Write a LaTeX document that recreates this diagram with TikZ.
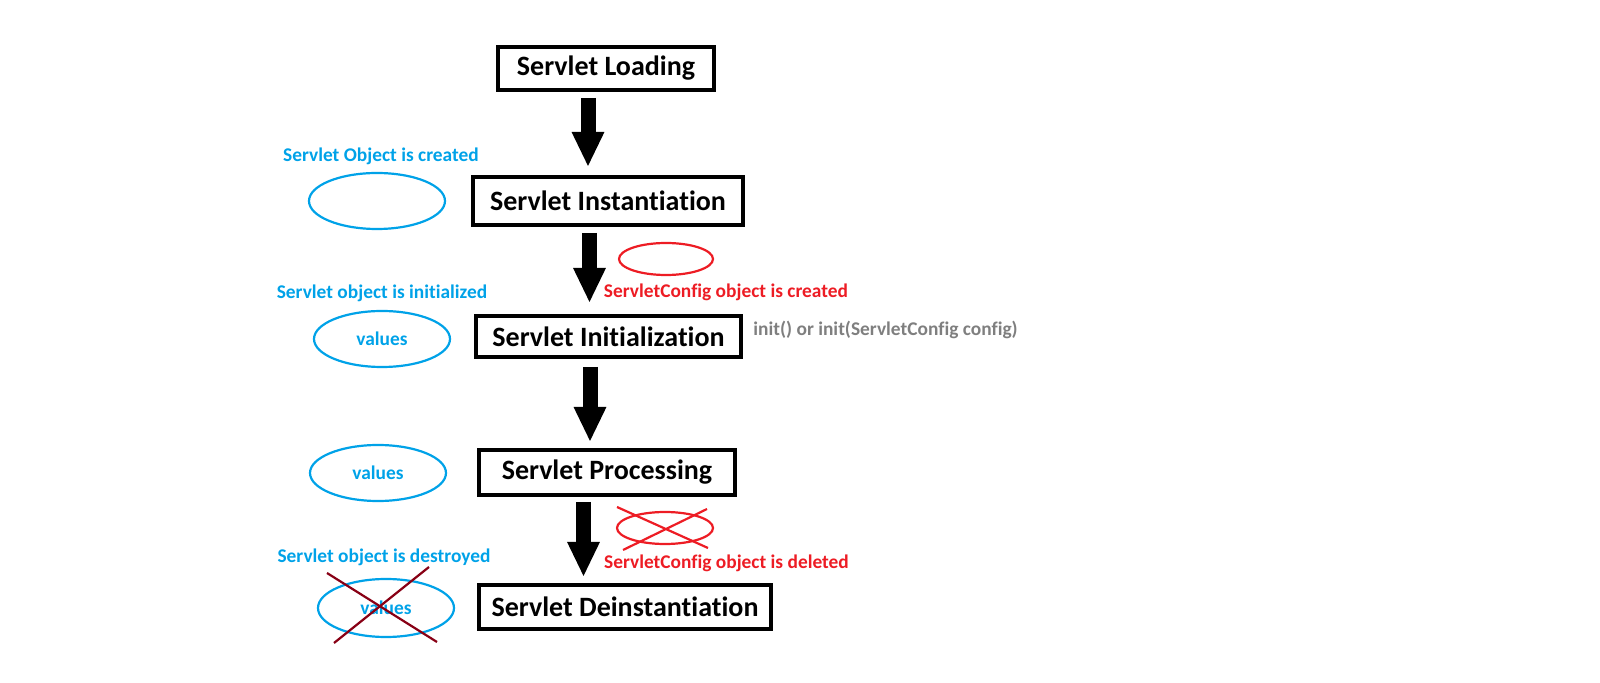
\documentclass[tikz,border=0pt]{standalone}
\usepackage{fontspec}
\setmainfont{Carlito}[Ligatures = NoCommon]
\usetikzlibrary{shapes.geometric,arrows.meta}
\definecolor{lblblue}{RGB}{0,162,232}
\definecolor{cfgred}{RGB}{237,28,36}
\definecolor{crossred}{RGB}{136,0,21}
\definecolor{callgray}{RGB}{127,127,127}
\tikzset{
	stage/.style = {draw, line width = 2pt, inner sep = 0pt, font = \fontsize{14}{16}\selectfont\bfseries},
	note/.style = {inner sep = 0pt, font = \fontsize{9.7}{12}\selectfont\bfseries},
	blob/.style = {draw = lblblue, ellipse, line width = 1.1pt, inner sep = 0pt, minimum width = 68pt, minimum height = 28pt, text = lblblue, font = \fontsize{9.7}{12}\selectfont\bfseries},
	cfgblob/.style = {draw = cfgred, ellipse, line width = 1.1pt, inner sep = 0pt, minimum width = 47pt, minimum height = 16pt},
	bigarrow/.style = {line width = 7.5pt, -{Triangle[length = 17.5pt, width = 15pt]}}
}

\begin{document}
\begin{tikzpicture}[x = 0.5pt, y = -0.5pt]
						\useasboundingbox (0,0) rectangle (1600,683);
						% stages
						\node[stage, minimum width = 108pt, minimum height = 21.5pt] (load) at (606,68.5) {Servlet Loading};
						\node[stage, minimum width = 135pt, minimum height = 24pt] (inst) at (608,201) {Servlet Instantiation};
						\node[stage, minimum width = 132.5pt, minimum height = 20.5pt] (init) at (608.5,336.5) {Servlet Initialization};
						\node[stage, minimum width = 128pt, minimum height = 22.5pt] (proc) at (607,472.5) {Servlet Processing};
						\node[stage, minimum width = 146pt, minimum height = 22pt] (deinst) at (625,607) {Servlet Deinstantiation};
						% arrows
						\draw[bigarrow] ([xshift = -9pt, yshift = -3pt]load.south) -- ([xshift = -10pt, yshift = 4pt]inst.north);
						\draw[bigarrow] ([xshift = -9.25pt, yshift = -3pt]inst.south) -- ([xshift = -9.5pt, yshift = 5.5pt]init.north);
						\draw[bigarrow] ([xshift = -9.25pt, yshift = -4pt]init.south) -- ([xshift = -8.5pt, yshift = 3pt]proc.north);
						\draw[bigarrow] ([xshift = -11.75pt, yshift = -2.5pt]proc.south) -- ([xshift = -20.75pt, yshift = 3pt]deinst.north);
						% servlet object
						\node[note, text = lblblue] (objlbl) at (381,156) {Servlet Object is created};
						\node[blob] (objell) at (377,201) {};
						\node[note, text = lblblue] (initlbl) at (382,293) {Servlet object is initialized};
						\node[blob] (initell) at (382,339) {values};
						\node[blob] (procell) at (378,473) {values};
						\node[note, text = lblblue] (destlbl) at (384,557) {Servlet object is destroyed};
						\node[blob, minimum height = 29pt] (destell) at (386,608) {values};
						\draw[crossred, line width = 1.1pt] ([shift = {(-59,-35)}]destell.center) -- ([shift = {(51,34)}]destell.center)
						([shift = {(43,-41)}]destell.center) -- ([shift = {(-52,35)}]destell.center);
						% servlet config
						\node[cfgblob] (cfgell) at (666,259) {};
						\node[note, text = cfgred] (cfglbl) at (726,292) {ServletConfig object is created};
						\node[note, text = callgray, anchor = west] (initcall) at (753,330) {init() or init(ServletConfig config)};
						\node[cfgblob, minimum width = 48pt] (cfgdel) at (665,528) {};
						\draw[cfgred, line width = 1.1pt] ([shift = {(-48,-21)}]cfgdel.center) -- ([shift = {(43,20)}]cfgdel.center)
						([shift = {(-42,22)}]cfgdel.center) -- ([shift = {(42,-19)}]cfgdel.center);
						\node[note, text = cfgred] (cfgdellbl) at (726.5,563) {ServletConfig object is deleted};
					\end{tikzpicture}
\end{document}
